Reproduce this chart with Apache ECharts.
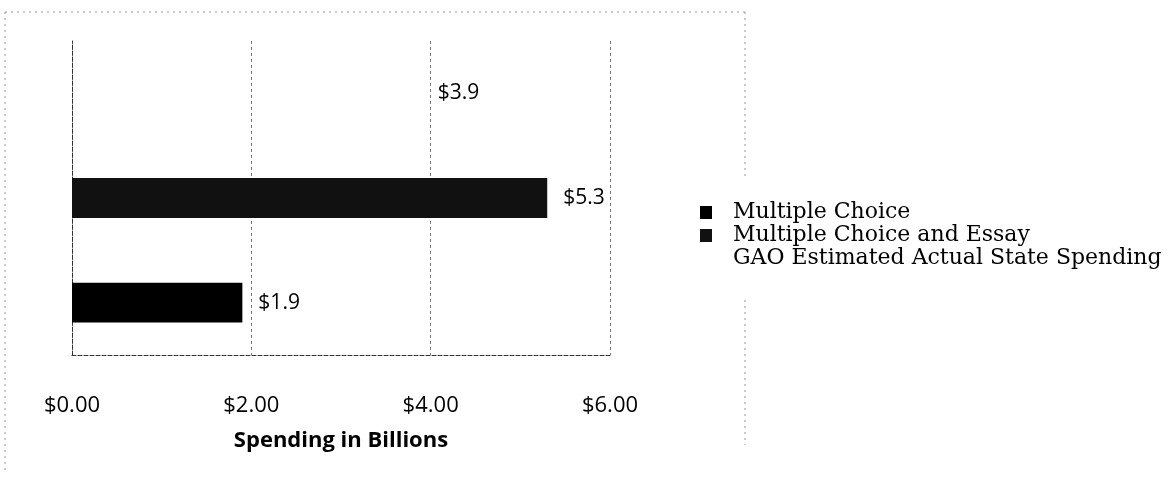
<!DOCTYPE html>
<html>
<head>
<meta charset="utf-8">
<script src="https://cdn.jsdelivr.net/npm/echarts@6/dist/echarts.min.js"></script>
<style>html,body{margin:0;padding:0;background:#fff}#c{width:1175px;height:477px}</style>
</head>
<body>
<div id="c"></div>
<script>
// Categories, bottom to top
const categories = ["Multiple Choice", "Multiple Choice and Essay", "GAO Estimated Actual State Spending"];
const multipleChoice = [1.9, "-", "-"];
const multipleChoiceEssay = ["-", 5.3, "-"];
const gaoEstimate = ["-", "-", 3.9];
const xTicks = [0, 2, 4, 6];
const axisTitle = "Spending in Billions";

const chart = echarts.init(document.getElementById('c'), null, {renderer: 'canvas'});
const labelStyle = {
  show: true, position: 'right', distance: 16,
  fontFamily: 'Open Sans', fontSize: 21, color: '#000',
  formatter: p => '$' + Number(p.value).toFixed(1)
};
const frame = {stroke: '#999', lineWidth: 1, lineDash: [2, 4]};
chart.setOption({
  animation: false,
  backgroundColor: '#fff',
  grid: {left: 72, right: 565, top: 41, bottom: 122, containLabel: false},
  legend: {
    orient: 'vertical', left: 700, top: 201, padding: 0,
    itemWidth: 12, itemHeight: 13, itemGap: 0,
    icon: 'rect',
    textStyle: {fontFamily: 'DejaVu Serif', fontSize: 22, color: '#000', padding: [0, 0, 0, 16], lineHeight: 23},
    data: categories
  },
  xAxis: {
    type: 'value', min: xTicks[0], max: xTicks[xTicks.length - 1], interval: 2,
    axisLine: {show: true, lineStyle: {color: '#333', type: [4, 2], width: 1}},
    axisTick: {show: false},
    splitLine: {show: true, lineStyle: {color: '#777', type: [3, 3], width: 1}},
    axisLabel: {margin: 40, fontFamily: 'Open Sans', fontSize: 22, color: '#000',
      formatter: v => '$' + v.toFixed(2)},
    name: axisTitle, nameLocation: 'middle', nameGap: 75,
    nameTextStyle: {fontFamily: 'Open Sans', fontSize: 22, fontWeight: 'bold', color: '#000'}
  },
  yAxis: {
    type: 'category', data: categories,
    axisLine: {show: true, lineStyle: {color: '#333', type: [4, 2], width: 1}},
    axisTick: {show: false},
    axisLabel: {show: false}
  },
  series: [
    {name: categories[0], type: 'bar', stack: 's', data: multipleChoice, barWidth: '38%',
      itemStyle: {color: '#000'}, label: labelStyle},
    {name: categories[1], type: 'bar', stack: 's', data: multipleChoiceEssay, barWidth: '38%',
      itemStyle: {color: '#111'}, label: labelStyle},
    {name: categories[2], type: 'bar', stack: 's', data: gaoEstimate, barWidth: '38%',
      itemStyle: {color: 'rgba(255,255,255,0)'}, label: labelStyle}
  ],
  graphic: [
    {type: 'line', shape: {x1: 5, y1: 12, x2: 745, y2: 12}, style: frame, silent: true},
    {type: 'line', shape: {x1: 5, y1: 12, x2: 5, y2: 470}, style: frame, silent: true},
    {type: 'line', shape: {x1: 745, y1: 12, x2: 745, y2: 180}, style: frame, silent: true},
    {type: 'line', shape: {x1: 745, y1: 300, x2: 745, y2: 445}, style: frame, silent: true}
  ]
});
</script>
</body>
</html>
